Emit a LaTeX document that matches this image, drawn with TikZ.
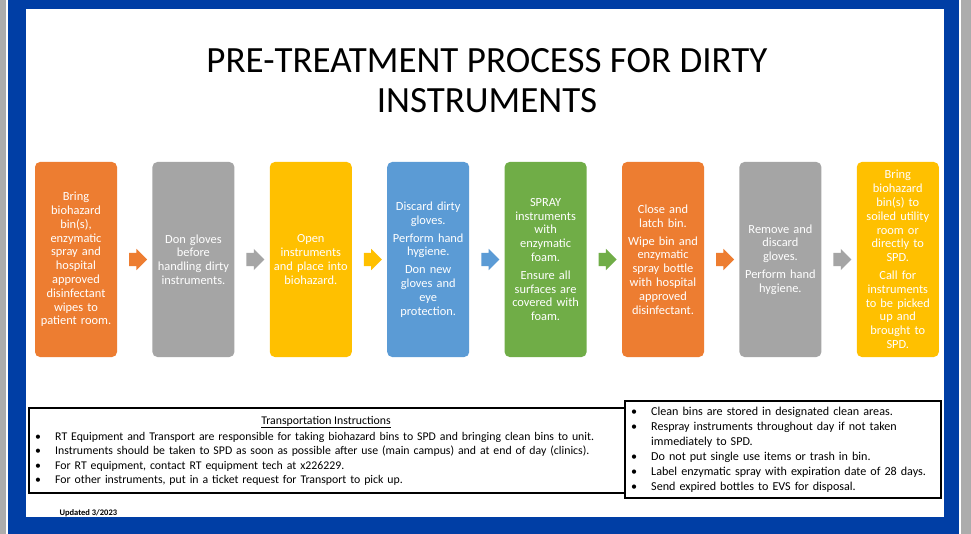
\documentclass[tikz,border=0pt]{standalone}
\usepackage{fontspec}
\setmainfont{Carlito}
\usetikzlibrary{positioning,shapes.arrows,calc}

\definecolor{stepOrange}{HTML}{ED7D31}
\definecolor{stepGray}{HTML}{A5A5A5}
\definecolor{stepYellow}{HTML}{FFC000}
\definecolor{stepBlue}{HTML}{5B9BD5}
\definecolor{stepGreen}{HTML}{70AD47}
\definecolor{frameBlue}{RGB}{0,62,165}

\newcommand{\bitem}[1]{\par\hangindent=20pt\hangafter=1\noindent\makebox[20pt][l]{\textbullet}#1}

\tikzset{
  stepbox/.style={rectangle, rounded corners=5pt, minimum width=82pt, minimum height=195pt,
    text width=80pt, align=center, inner sep=0pt, text=white,
    font=\fontsize{12.4}{13.8}\selectfont},
  flowarrow/.style={single arrow, minimum height=18pt, inner xsep=0pt, inner ysep=6.5pt,
    single arrow head extend=4pt, single arrow head indent=0pt},
  notebox/.style={draw=black, line width=1.6pt, fill=white, inner sep=0pt, anchor=north west},
  notetext/.style={anchor=north west, inner sep=0pt, align=left},
}

\begin{document}
\begin{tikzpicture}[x=1pt,y=-1pt]
  \useasboundingbox (0,0) rectangle (971,534);
  % Rahmen
  \fill[gray!65] (0,0) rectangle (971,534);
  \fill[white] (6,0) rectangle (961,534);
  \fill[frameBlue] (8,0) rectangle (959,534);
  \fill[white] (26,9) rectangle (944,517);

  % Titel
  \node[align=center, font=\fontsize{37}{40}\selectfont] (title) at (487,81)
    {PRE-TREATMENT PROCESS FOR DIRTY\\INSTRUMENTS};

  % Schritte
  \node[stepbox, fill=stepOrange] (s1) at (76,259.5)
    {Bring\\biohazard\\bin(s),\\enzymatic\\spray and\\hospital\\approved\\disinfectant\\wipes to\\patient room.};
  \node[stepbox, fill=stepGray, right=35pt of s1] (s2)
    {Don gloves\\before\\handling dirty\\instruments.};
  \node[stepbox, fill=stepYellow, right=35pt of s2] (s3)
    {Open\\instruments\\and place into\\biohazard.};
  \node[stepbox, fill=stepBlue, right=35pt of s3] (s4)
    {Discard dirty\\gloves.\\[4pt]Perform hand\\hygiene.\\[4pt]Don new\\gloves and\\eye\\protection.};
  \node[stepbox, fill=stepGreen, right=35pt of s4] (s5)
    {SPRAY\\instruments\\with\\enzymatic\\foam.\\[4pt]Ensure all\\surfaces are\\covered with\\foam.};
  \node[stepbox, fill=stepOrange, right=35pt of s5] (s6)
    {Close and\\latch bin.\\[4pt]Wipe bin and\\enzymatic\\spray bottle\\with hospital\\approved\\disinfectant.};
  \node[stepbox, fill=stepGray, right=35pt of s6] (s7)
    {Remove and\\discard\\gloves.\\[4pt]Perform hand\\hygiene.};
  \node[stepbox, fill=stepYellow, right=35pt of s7] (s8)
    {Bring\\biohazard\\bin(s) to\\soiled utility\\room or\\directly to\\SPD.\\[4pt]Call for\\instruments\\to be picked\\up and\\brought to\\SPD.};

  % Pfeile zwischen den Schritten
  \foreach \a/\b/\c in {s1/s2/stepOrange, s2/s3/stepGray, s3/s4/stepYellow, s4/s5/stepBlue,
                        s5/s6/stepGreen, s6/s7/stepOrange, s7/s8/stepGray}
    \node[flowarrow, fill=\c] (arr-\a) at ($(\a.east)!0.5!(\b.west)$) {};

  % Hinweise unten
  \node[notebox, minimum width=602pt, minimum height=85pt] (transport) at (28,407) {};
  \node[anchor=base, font=\fontsize{11.8}{13}\selectfont] (transport-title) at (326,424)
    {\underline{Transportation Instructions}};
  \node[notetext, text width=590pt, font=\fontsize{11.8}{14.3}\selectfont] (transport-list) at (35,426)
    {\bitem{RT Equipment and Transport are responsible for taking biohazard bins to SPD and bringing clean bins to unit.}
     \bitem{Instruments should be taken to SPD as soon as possible after use (main campus) and at end of day (clinics).}
     \bitem{For RT equipment, contact RT equipment tech at x226229.}
     \bitem{For other instruments, put in a ticket request for Transport to pick up.}};

  \node[notebox, minimum width=316pt, minimum height=97pt] (storage) at (624,400) {};
  \node[notetext, text width=305pt, font=\fontsize{12.1}{15}\selectfont] (storage-list) at (631,400)
    {\bitem{Clean bins are stored in designated clean areas.}
     \bitem{Respray instruments throughout day if not taken\newline immediately to SPD.}
     \bitem{Do not put single use items or trash in bin.}
     \bitem{Label enzymatic spray with expiration date of 28 days.}
     \bitem{Send expired bottles to EVS for disposal.}};

  \node[anchor=west, font=\fontsize{8.5}{10}\selectfont\bfseries] (updated) at (56,513) {Updated 3/2023};
\end{tikzpicture}
\end{document}
